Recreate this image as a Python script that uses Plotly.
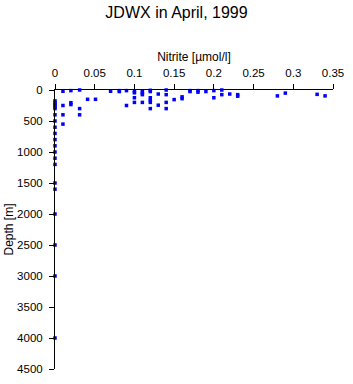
import plotly.graph_objects as go

# Nitrite values (umol/l) and depths (m)
nitrite = [
    0.01, 0.02, 0.031, 0.01, 0.02, 0.02, 0.031, 0.031, 0.01, 0.01,
    0.041, 0.051, 0.07, 0.081, 0.081, 0.09, 0.09,
    0.10, 0.10, 0.10, 0.10, 0.11, 0.11, 0.11, 0.11,
    0.12, 0.12, 0.12, 0.12, 0.12, 0.12, 0.13, 0.13,
    0.14, 0.14, 0.14, 0.14, 0.15, 0.16, 0.16, 0.17, 0.17,
    0.18, 0.18, 0.19, 0.20, 0.20, 0.21, 0.21, 0.22, 0.23, 0.23,
    0.28, 0.29, 0.33, 0.34,
    0, 0, 0, 0, 0, 0, 0, 0, 0, 0, 0, 0, 0, 0, 0, 0, 0, 0, 0, 0, 0,
]
depth = [
    20, 10, 0, 250, 205, 235, 300, 400, 400, 550,
    150, 150, 20, 10, 25, 10, 250,
    25, 45, 125, 200, 25, 50, 75, 200,
    5, 25, 125, 165, 200, 300, 65, 245,
    0, 75, 200, 300, 155, 110, 140, 25, 10,
    10, 35, 25, 10, 125, 0, 75, 65, 75, 100,
    95, 50, 70, 95,
    175, 200, 225, 250, 275, 300, 400, 500, 600, 700, 800, 900, 1000,
    1100, 1200, 1500, 1600, 2000, 2500, 3000, 4000,
]

x_ticks = [0, 0.05, 0.1, 0.15, 0.2, 0.25, 0.3, 0.35]
x_tick_text = ["0", "0.05", "0.1", "0.15", "0.2", "0.25", "0.3", "0.35"]
y_ticks = [0, 500, 1000, 1500, 2000, 2500, 3000, 3500, 4000, 4500]

fig = go.Figure(go.Scatter(
    x=nitrite, y=depth, mode="markers",
    marker=dict(symbol="square", size=3.5, color="#0000FF", line=dict(width=0)),
    cliponaxis=False,
))

fam = "Liberation Sans, Arial, sans-serif"
font = dict(family=fam, color="black", size=11.5)

fig.update_layout(
    width=353, height=384,
    margin=dict(l=54, r=14, t=90, b=9),
    paper_bgcolor="white", plot_bgcolor="white",
    showlegend=False,
    font=font,
    title=dict(text="JDWX in April, 1999", x=0.5, xanchor="center",
               y=0.982, yanchor="top", font=dict(size=16, family=fam, color="black")),
    xaxis=dict(
        side="top", range=[0, 0.35], tickvals=x_ticks, ticktext=x_tick_text,
        showgrid=False, zeroline=False, showline=True, linecolor="black", linewidth=1,
        ticks="outside", ticklen=5, tickcolor="black", ticklabelstandoff=2,
        title=dict(text="Nitrite [µmol/l]", standoff=3, font=dict(size=12, family=fam)),
    ),
    yaxis=dict(
        range=[4500, 0], tickvals=y_ticks,
        showgrid=False, zeroline=False, showline=True, linecolor="black", linewidth=1,
        ticks="outside", ticklen=5, tickcolor="black", ticklabelstandoff=4,
        title=dict(text="Depth [m]", standoff=0, font=dict(size=12, family=fam)),
    ),
)

fig.write_html("out.html")
